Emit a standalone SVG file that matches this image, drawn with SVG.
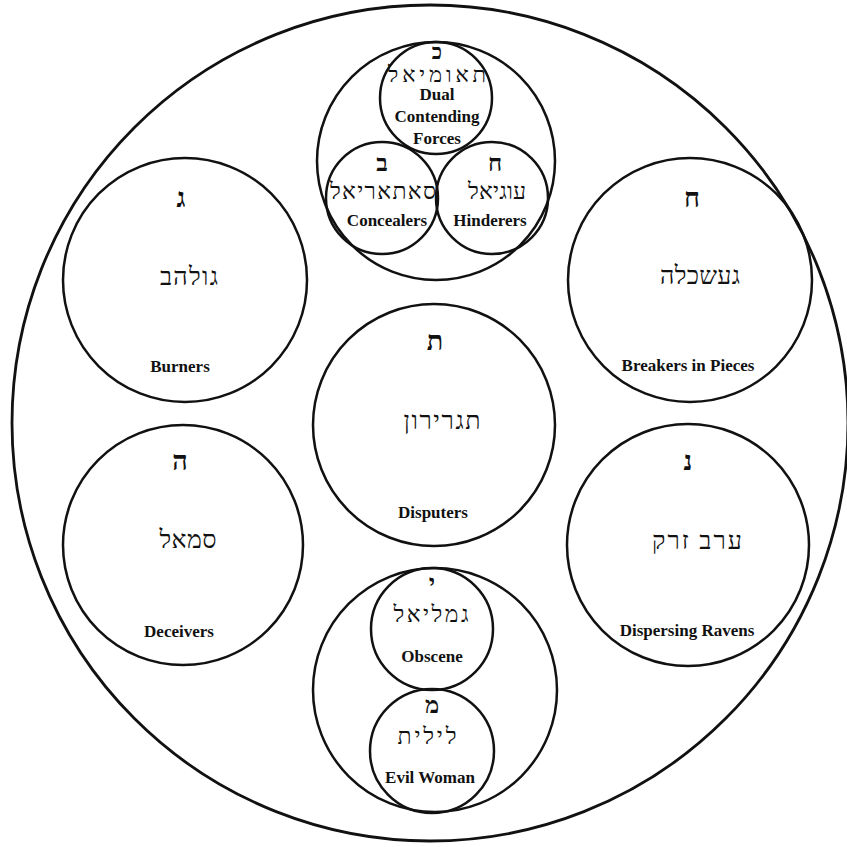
<svg xmlns="http://www.w3.org/2000/svg" width="847" height="847" viewBox="0 0 847 847">
<style>
.c{fill:none;stroke:#111;stroke-width:2.5}
.o{fill:none;stroke:#111;stroke-width:2.8}
.en{font-family:"Liberation Serif","DejaVu Serif",serif;font-size:17px;font-weight:bold;fill:#111;text-anchor:middle}
.he{font-family:"Liberation Serif","DejaVu Sans",serif;font-size:25px;fill:#111;text-anchor:middle}
.lt{font-family:"Liberation Serif","DejaVu Sans",serif;font-size:27px;font-weight:bold;fill:#111;text-anchor:middle}
.ls{font-size:24px}
</style>
<rect width="847" height="847" fill="#fff"/>
<g id="outer"><circle class="o" cx="430" cy="423" r="418"/></g>
<g id="top-cluster">
<circle class="c" cx="436" cy="161" r="119"/>
<g id="thaumiel">
<circle class="c" cx="436" cy="98" r="56"/>
<text class="lt" x="437" y="59" style="font-size:21px">כ</text>
<text class="he" x="437" y="82" textLength="98" style="font-size:22px">תאומיאל</text>
<text class="en" x="437" y="100">Dual</text>
<text class="en" x="437" y="122">Contending</text>
<text class="en" x="437" y="144">Forces</text>
</g>
<g id="satariel">
<circle class="c" cx="382" cy="198" r="56"/>
<text class="lt ls" x="382" y="171">ב</text>
<text class="he" x="383" y="199" textLength="106" style="font-size:23px">סאתאריאל</text>
<text class="en" x="387" y="226">Concealers</text>
</g>
<g id="ogiel">
<circle class="c" cx="492" cy="198" r="56"/>
<text class="lt ls" x="495" y="171">ח</text>
<text class="he" x="497" y="199" textLength="58" style="font-size:23px">עוגיאל</text>
<text class="en" x="490" y="226">Hinderers</text>
</g>
</g>
<g id="golachab">
<circle class="c" cx="185" cy="280" r="122"/>
<text class="lt" x="181" y="207">ג</text>
<text class="he" x="189" y="285" textLength="58">גולהב</text>
<text class="en" x="180" y="372">Burners</text>
</g>
<g id="gasheklah">
<circle class="c" cx="690" cy="280" r="122"/>
<text class="lt" x="692" y="207">ח</text>
<text class="he" x="700" y="284" textLength="80">געשכלה</text>
<text class="en" x="688" y="371">Breakers in Pieces</text>
</g>
<g id="thagirion">
<circle class="c" cx="434" cy="425" r="121"/>
<text class="lt" x="435" y="350">ת</text>
<text class="he" x="442" y="429" textLength="77">תגרירון</text>
<text class="en" x="433" y="518">Disputers</text>
</g>
<g id="samael">
<circle class="c" cx="183" cy="545" r="120"/>
<text class="lt" x="180" y="470">ה</text>
<text class="he" x="188" y="548" textLength="57">סמאל</text>
<text class="en" x="179" y="637">Deceivers</text>
</g>
<g id="aarab-zaraq">
<circle class="c" cx="688" cy="545" r="121"/>
<text class="lt" x="688" y="470">נ</text>
<text class="he" x="697" y="549" textLength="90">ערב זרק</text>
<text class="en" x="687" y="636">Dispersing Ravens</text>
</g>
<g id="bottom-cluster">
<circle class="c" cx="435" cy="690" r="122"/>
<g id="gamaliel">
<circle class="c" cx="432" cy="629" r="61"/>
<text class="lt ls" x="432" y="591">י</text>
<text class="he" x="431" y="622" textLength="75" style="font-size:23px">גמליאל</text>
<text class="en" x="432" y="662">Obscene</text>
</g>
<g id="lilith">
<circle class="c" cx="432" cy="751" r="62"/>
<text class="lt ls" x="432" y="713">מ</text>
<text class="he" x="427" y="744" textLength="59" style="font-size:23px">לילית</text>
<text class="en" x="430" y="783">Evil Woman</text>
</g>
</g>
</svg>
